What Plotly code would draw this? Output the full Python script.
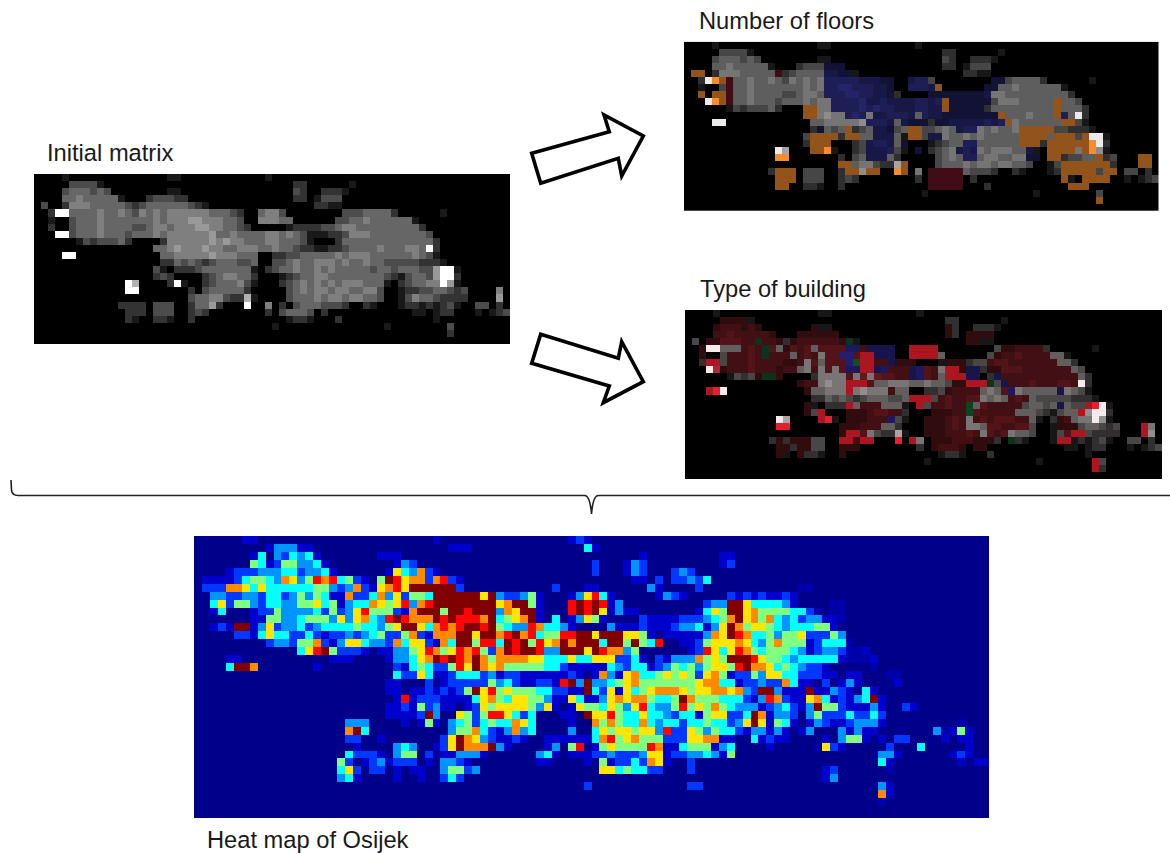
import plotly.graph_objects as go

W, H = 1170, 853

# ---------- Heat map of Osijek: colour level of each cell ----------
HEAT_LEFT = [
 "0000001100 - - 1000",
 "0000000001 3331100000 - 0011",
 "0000000140 3243410000 0001110000",
 "0000000541 2553341000 0000013200",
 "0000122233 3442334100 0000164372 1000",
 "0111124554 3763587845 2105986772 7821",
 "0222776464 4444455323 7216786999 9992",
 "0033223324 4235354117 2247362554 9999",
 "0046255324 4335564513 4476568378 9999",
 "0014000122 5333342523 6855521799 9599",
 "0000000115 5334555363 6743898777 9898",
 "0012199136 2334234444 5443569964 7878",
 "0000022146 4422421223 2345225721 7779",
 "0000000002 3325572136 6433274662 1749",
 "- 0004689522 2101133568 7568",
 "0000110000 0000000111 0000133467 9898",
 "0000499700 0000010000 0000021454 2258",
 "- - 0000042264 1124",
 "- - 0000110002 0122",
 "- - 0000110112 1212",
 "- - 0000018122 2111",
 "- - 0000112152 3110",
 "- - 0000111129 3006",
 "- 0000000003 3300001015 1034",
 "- 0000000007 9400000000 0035",
 "- 0000000002 2001000000 0269",
 "- - 1000034300 1269",
 "- 0000000004 2221035502 0113",
 "- 0000000052 0123122201 0332",
 "- 0000000046 2022010110 0355",
 "- 0000000034 1000010010 0242",
 "", "", "", "", "",
]
HEAT_MIDDLE = [
 "- 0001210000",
 "1000000000 0000041000",
 "- - 0010000000 0011",
 "- 0000002000 1320000000 0012",
 "- 0000002000 1320002320",
 "- - 0110202232 4000",
 "- 0200011000 0003100002",
 "9969322351 0001368410 0000132100 0002",
 "9999679951 0008989813 - 2339",
 "8999376991 0008989613 1100000001 4659",
 "8879456791 0401365100 0021111222 3457",
 "9989543387 4431000031 1121112334 1369",
 "9699789784 5588996999 6651011111 3769",
 "9588498958 6797999499 5954800112 5666",
 "7852798998 3399969877 3500000012 8646",
 "7975777766 4446446662 2410213337 5659",
 "6976755555 4421111143 2441235453 5665",
 "4423122111 1112101731 6744565652 6751",
 "2225342112 2189393345 6755555556 7744",
 "5968565554 4221194261 6456777656 6776",
 "1467546655 3116411367 6775445975 5544",
 "1265666653 6101655465 3684335856 5754",
 "5258864240 0011096685 4464432441 5662",
 "5245447640 0001007575 4474344244 5442",
 "5742137340 0003004656 6566382265 3544",
 "7632112100 1111114785 6755522266 7711",
 "7779310000 1305801565 5558711455 5134",
 "3310000003 4101112232 2236612233 4315",
 "1000000001 1000010512 2427610020",
 "2300000000 0000000664 5442200020",
 "",
 "- 0000020000 0000000022",
 "", "", "", "",
]
HEAT_RIGHT = [
 "", "", "", "", "", "",
 "00000000aa",
 "1212112100",
 "9644443100 00aa000000",
 "9675555442 a0aa000000",
 "9675743423 311a000000",
 "7566543444 5510000000",
 "8744535562 2253000000",
 "7643575551 2444a00000",
 "8754555431 2332aa1000",
 "9986554344 4441aaa100",
 "8977645432 2100000a00",
 "2253664422 211011000a a000000000",
 "1223227411 0201310000 1000000000",
 "7329931119 1132104100",
 "4213872116 7412134910",
 "3331234213 9552111310 0210000000",
 "2497133203 5222422420",
 "3696154101 3211233310 00000000a0",
 "2133131013 0003131100 000003a151",
 "0041211000 0103551010 2200001011",
 "0000100000 a621000002 0004000001",
 "- 0000000033 1000000121",
 "- 0000000041 0000000010 11",
 "- 012000000a",
 "- 0130000000",
 "- 0000000031",
 "- 0000000071",
 "- 00000000a0",
 "", "",
]
HEAT_LEVELS = {"0": 0.0, "a": 0.035, "1": 0.07, "2": 0.18, "3": 0.27, "4": 0.38,
               "5": 0.50, "6": 0.65, "7": 0.74, "8": 0.87, "9": 1.0}
JET = [[0, "#00008b"], [0.125, "#0000ff"], [0.375, "#00ffff"], [0.625, "#ffff00"],
       [0.875, "#ff0000"], [1, "#800000"]]

# ---------- The three building maps: white-pixel density per block ----------
MAP_DENSITY = [
 "0000100000 0000000001 1000000000 0001000000",
 "0000033331 0000000000 0000000000 0000000220 0000010000",
 "0000344434 3000000001 1000000000 0000000320 0222100000",
 "0000445444 4410002333 2200000000 0000000220 1333000000",
 "0300255544 4443234444 4432100000 0000000000 2211000000",
 "0029944445 4454354545 5555544432 0045530000 0000333444 4200000010",
 "0010034445 4444444545 5566555443 0055544000 0003344544 4444100000",
 "0020034445 4444334554 5556655443 2000001222 2334554444 4444420000",
 "0009934445 4443444545 5555564454 4445545431 1122355544 4444443000",
 "0000001323 3342000025 5555565655 4445544431 0002444444 4444444200",
 "0000000000 0000000445 6555655445 5544544322 1122344445 4445548200",
 "0000990000 0000000044 5555565554 4400223344 4445455544 4444543100",
 "0000000000 0000000022 4343234443 3400334544 5554544544 3333322210",
 "0000000000 0000000310 2223444444 4102344544 5454444434 4344433689 10000000",
 "0000000000 0000000232 0000234554 4200012344 5544444444 3213443689 20000000",
 "0000000000 0008700002 8100234445 3100023454 5454555444 1023445586 10000000",
 "0000000000 0009800000 0020344444 2000003454 5545544553 0012233443 23000050",
 "0000000000 0000000000 0034455322 7100003444 5455455443 0013544322 22000060",
 "0000000000 0022220333 0024462000 8005020344 4333200210 0012212123 10033020",
 "0000000000 0002220333 0023200000 0002034443 0200000000 0000110122 00010123",
 "0000000000 0002100221 0020000000 0000001221 0002000000 0000000100",
 "- - - 0000100000 - 1000000003",
 "- - - - - 0000000002",
 "",
]
MAP_FLOORS = [
 "", "", "",
 "- - bbb.......",
 ".oo....... ...r...... bbbb......",
 "....oor... - bbbbbbbbbb ..bbb..... ....bb....",
 "......r... - bbbbbbbbbb ..bbbbo... ...bb.....",
 "..o.oor... - bbbbbbbbbb .....bbbbb bbbb......",
 "....oor... - .bbbbbbbbb bbbbbbbobb bbbb...... ...o......",
 "- .......oo. .bbbbbbbbb bbbbbbbobb bbb....... ...o......",
 "- .......oo. ...bbb.bbb bbb.bbbbbb bbbbbo.... ...ob.....",
 "- - ......bbbb .bbbb.bbbb bbbbbbo... ....oo....",
 "- .........b ...o...bbb ..oo.....b bb......oo ooo.......",
 "- ........oo oo.oo..bbb ..oo.bb... ........oo oo.ooo.o..",
 "- ........oo o.....bbbb .b........ bb......oo o.ooooooo.",
 "- ........oo o.....bbbb ...b.....b bb.......b ..oooo.oo.",
 "- ...oo..... ......bbb. - bb.......b b.oo.....o .....oo.",
 "- - ..oo...... .o........ - ....oooooo o....oo.",
 "- ...ooo.... ...oo.oo.. oo...rrrrr - ....ooooo. oo......",
 "- ...ooo.... - .....rrrrr - ....o..ooo o.......",
 "- ...oo..... - .....rrrrr - .....ooo..",
 "",
 "- - - - - .........o",
 "",
]
MAP_TYPES = [
 "",
 ".....rrrr.",
 "....rrrrrr r.......r. - .......r..",
 "....rrrrrr rrr...rrrr rr........ .......r.. rrrr......",
 "...rrrrrrr grrr.rrrrr rrrg...... - rr........",
 "..r.....rr rgr.rrrr.r rrrbbrbbbb ..RRRR.... .....rrrrr r.........",
 "..r...rrrr rgrrr.rrr. rrbbrRRbbb ..RRRR.... ....rrrrrr rr........",
 "...RR.rrrr rrrrrrr.r. rrrbgRRrrb rrr....rrr ...rrrrrrr rrr.......",
 "....rrrrrr rrrrrr..r. r.rbbRRbbr rrbbrr.RRr bb.rrrrrrr rrrrr.....",
 "- rggr...... ...r.r.rrr rrbbrr.RRR bb..brrrrr rrrrrr....",
 "- ......rrr. ...RRRr... ........rr RRRg.brrrr rrrrrr....",
 "...RR..... .......r.. ...R.....r .......rrr rr...rb... ...b......",
 "- - - ..RRR.rrrr rr....rrr.",
 "- .......r.. ...R.rrr.. ...R.rrrrr g.rrrrrr.. ...b...RR.",
 "- .......r.R ...rrrrrrr r....rrrrr grrrrrr... ......R...",
 "- .........R R..rrrrrrb ....rrrrrr .rrrrrrrr. ...rr.....",
 "- ...RR..... ..rrrrrr.. ....rrrrrr ...rrrrrr. ...rrr.... .....R..",
 "- - ..rRRr.... ....rrrrrr rr.rrr.... ....rRR... .....R..",
 "- ...r.rrr.. ..RRrRR... R.R..rrrrr rrrr..g... ...RR.....",
 "- ...rr.rr.. ..rrr..... .....rrrrr .rr.......",
 "- ...r..r... ..r.......",
 "- - - - - ........R.",
 "- - - - - ........R.",
 "",
]

PANEL_LABELS = ["Initial matrix", "Number of floors", "Type of building", "Heat map of Osijek"]
# class -> (rgb, brightness at zero density)
FLOOR_CLASSES = {".": ((235, 235, 235), 0.0), "b": ((60, 60, 175), 0.3),
                 "o": ((245, 140, 45), 0.6), "r": ((130, 25, 45), 0.5)}
TYPE_CLASSES = {".": ((245, 235, 235), 0.0), "r": ((165, 40, 50), 0.3),
                "R": ((230, 30, 45), 0.75), "b": ((60, 50, 190), 0.4),
                "g": ((30, 130, 70), 0.4)}
GREY_CLASSES = {".": ((255, 255, 255), 0.0)}


def parse(row, width, fill):
    out = []
    for tok in row.split():
        out.append(fill * 10 if tok == "-" else tok)
    text = "".join(out)
    assert len(text) <= width, (row, len(text))
    return text.ljust(width, fill)


heat_rows = [parse(a, 34, "0") + parse(b, 34, "0") + parse(c, 32, "0")
             for a, b, c in zip(HEAT_LEFT, HEAT_MIDDLE, HEAT_RIGHT)]
heat_z = [[HEAT_LEVELS[ch] for ch in row] for row in heat_rows]
density = [parse(r, 68, "0") for r in MAP_DENSITY]


def map_trace(classes, class_rows, name):
    """Heatmap whose discrete colour scale holds class x density colours."""
    keys = list(classes)
    n = len(keys) * 10
    scale = []
    for k, key in enumerate(keys):
        rgb, floor = classes[key]
        for d in range(10):
            f = 1.0 if d >= 8 else d / 10
            f = max(floor, f)
            c = tuple(int(v * f) for v in rgb)
            scale.append([(k * 10 + d) / (n - 1), f"rgb{c}"])
    z = []
    for r in range(24):
        line = []
        rowc = parse(class_rows[r], 68, ".")
        for c in range(68):
            line.append(keys.index(rowc[c]) * 10 + int(density[r][c]))
        z.append(line)
    return go.Heatmap(z=z, zmin=0, zmax=n - 1, colorscale=scale, showscale=False,
                      hoverinfo="skip", name=name)


def px_x(x):
    return x / W


def px_y(y):
    return 1 - y / H


def add_axes(layout, idx, box, xr, yr):
    x0, y0, x1, y1 = box
    s = "" if idx == 1 else str(idx)
    layout[f"xaxis{s}"] = dict(domain=[px_x(x0), px_x(x1)], range=xr, visible=False,
                               anchor=f"y{s}", fixedrange=True)
    layout[f"yaxis{s}"] = dict(domain=[px_y(y1), px_y(y0)], range=yr, visible=False,
                               anchor=f"x{s}", fixedrange=True)


def path(points):
    return "M " + " L ".join(f"{px_x(x):.5f},{px_y(y):.5f}" for x, y in points) + " Z"


blank = [""] * 24
traces = [
    (map_trace(GREY_CLASSES, blank, "initial"), (34, 174, 510, 344)),
    (map_trace(FLOOR_CLASSES, MAP_FLOORS, "floors"), (684, 41.7, 1158.5, 211)),
    (map_trace(TYPE_CLASSES, MAP_TYPES, "type"), (685, 310, 1162, 479)),
]

layout = dict(width=W, height=H, margin=dict(l=0, r=0, t=0, b=0), autosize=False,
              paper_bgcolor="white", plot_bgcolor="white", showlegend=False)
fig_data = []
for i, (tr, box) in enumerate(traces, start=1):
    tr.xaxis = "x" if i == 1 else f"x{i}"
    tr.yaxis = "y" if i == 1 else f"y{i}"
    fig_data.append(tr)
    add_axes(layout, i, box, [-0.5, 67.5], [23.5, -0.5])

heat = go.Heatmap(z=heat_z, zmin=0, zmax=1, colorscale=JET, showscale=False,
                  hoverinfo="skip", xaxis="x4", yaxis="y4")
fig_data.append(heat)
add_axes(layout, 4, (194, 536, 989, 818), [-0.5, 99.5], [34.97, -0.5])

fig = go.Figure(data=fig_data, layout=layout)

ARROW_UP = [(531.7, 153.3), (609.3, 131.7), (604, 115), (643.3, 136), (621.7, 176),
            (618.3, 158.3), (540.7, 183.3)]
ARROW_DOWN = [(540.7, 334.3), (618.3, 358.3), (621.7, 341.7), (643.3, 381.7),
              (603.3, 402.7), (609.3, 386), (531.7, 363.3)]
for pts in (ARROW_UP, ARROW_DOWN):
    fig.add_shape(type="path", xref="paper", yref="paper", path=path(pts),
                  line=dict(color="black", width=3.6), fillcolor="white")

brace = (f"M {px_x(11):.5f},{px_y(480):.5f} L {px_x(11.5):.5f},{px_y(490):.5f} "
         f"Q {px_x(12):.5f},{px_y(495.5):.5f} {px_x(18):.5f},{px_y(495.5):.5f} "
         f"L {px_x(585):.5f},{px_y(495.5):.5f} "
         f"Q {px_x(590):.5f},{px_y(496):.5f} {px_x(591.5):.5f},{px_y(514):.5f} "
         f"Q {px_x(593):.5f},{px_y(496):.5f} {px_x(598):.5f},{px_y(495.5):.5f} "
         f"L {px_x(1170):.5f},{px_y(495.5):.5f}")
fig.add_shape(type="path", xref="paper", yref="paper", path=brace,
              line=dict(color="#222222", width=1.6))

label_pos = [(47, 153), (699, 21), (700, 289), (207, 840)]
for text, (x, y) in zip(PANEL_LABELS, label_pos):
    fig.add_annotation(text=text, xref="paper", yref="paper", x=px_x(x), y=px_y(y),
                       xanchor="left", yanchor="middle", showarrow=False, xshift=-2,
                       font=dict(family="Liberation Sans", size=23.7, color="#1a1a1a"))

fig.write_html("out.html", config=dict(displayModeBar=False),
               post_script="document.body.style.margin='0';")
